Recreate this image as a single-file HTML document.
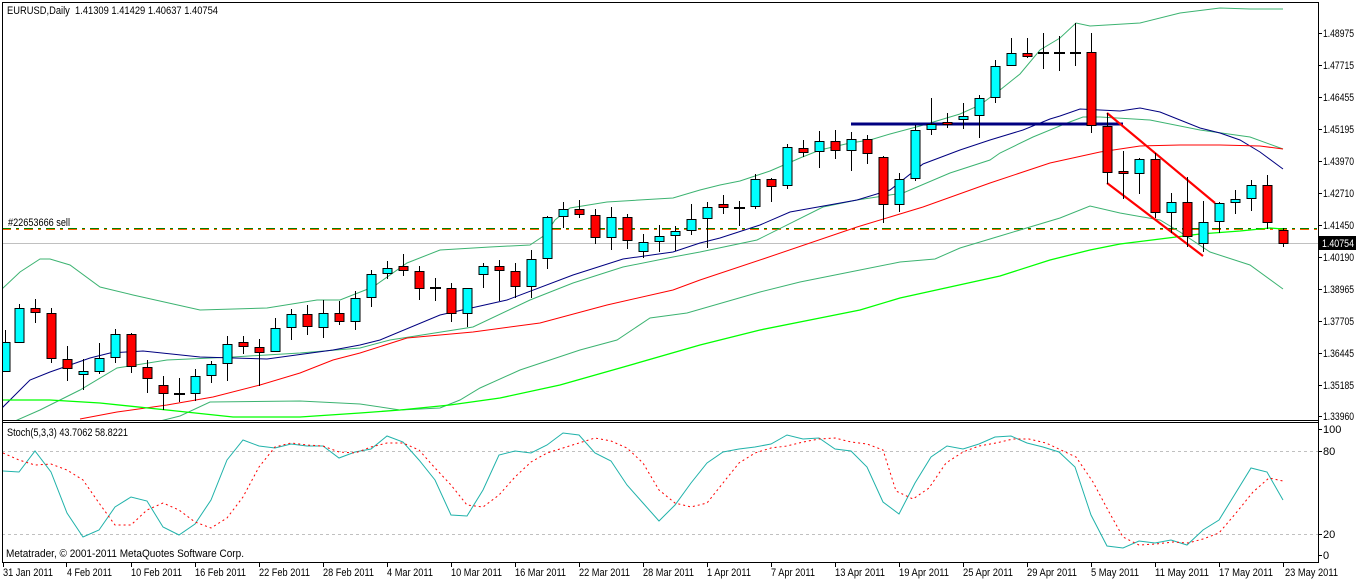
<!DOCTYPE html>
<html><head><meta charset="utf-8"><style>
html,body{margin:0;padding:0;background:#fff;}
svg{display:block;}
text{font-family:"Liberation Sans",sans-serif;font-size:11px;fill:#000;}
.p{font-size:10.5px;}
</style></head><body>
<svg width="1356" height="579" viewBox="0 0 1356 579" xmlns="http://www.w3.org/2000/svg">
<defs><clipPath id="cm"><rect x="3" y="3" width="1315" height="417"/></clipPath>
<clipPath id="cs"><rect x="3" y="424" width="1315" height="138"/></clipPath></defs>
<rect width="1356" height="579" fill="#fff"/>
<g clip-path="url(#cm)">
<line x1="2" y1="243.5" x2="1318" y2="243.5" stroke="#c0c0c0"/>
<line x1="2" y1="229.5" x2="1318" y2="229.5" stroke="#ff6000" stroke-dasharray="9,5,3,5"/>
<line x1="2" y1="228.5" x2="1318" y2="228.5" stroke="#008000" stroke-dasharray="9,5,3,5"/>
<g fill="none" stroke-width="1">
<polyline stroke="#3cb371" points="2,289 20,272 40,259 50,259 70,265 100,287 133,295 200,310 267,308 317,300 340,300 373,287 407,263 440,250 490,247 530,245 545,235 555,220 570,208 607,202 673,198 700,190 720,185 740,181 770,171 800,158 820,150 850,143 870,140 890,134 920,126 940,120 960,114 980,105 1000,90 1020,74 1040,50 1060,38 1076,23 1090,26 1140,23 1180,13 1220,8 1250,9 1283,9"/>
<polyline stroke="#3cb371" points="15,421 40,410 60,400 80,390 117,368 167,360 233,357 300,353 360,348 390,340 473,327 530,300 573,283 623,267 673,257 700,252 757,240 823,207 857,200 903,193 950,173 990,160 1000,153 1033,137 1067,123 1083,117 1100,117 1150,120 1200,130 1250,137 1283,149"/>
<polyline stroke="#3cb371" points="160,421 180,416 210,402 300,401 360,404 400,410 440,408 460,400 480,388 520,370 580,350 617,340 650,318 687,313 760,292 800,282 850,272 900,262 935,259 960,248 1000,236 1060,218 1090,206 1120,213 1160,220 1180,232 1210,252 1250,265 1283,289"/>
<polyline stroke="#000080" points="2,408 30,380 50,372 70,365 90,358 110,353 143,351 200,357 267,359 333,350 360,345 380,340 440,315 507,300 573,275 623,259 673,252 700,243 720,238 760,225 790,212 857,200 890,190 923,164 960,150 990,140 1023,130 1050,119 1060,116 1080,109 1100,110 1120,111 1140,108 1160,112 1180,120 1200,128 1220,133 1240,140 1260,152 1283,169"/>
<polyline stroke="#ff0000" points="80,419 117,412 167,405 213,397 260,385 300,373 333,360 360,353 407,338 473,332 540,323 607,305 673,290 700,280 763,259 857,227 923,207 990,183 1050,163 1100,152 1140,146 1180,145 1220,145 1260,146 1283,149"/>
<polyline stroke="#00ff00" stroke-width="1.3" points="2,400 50,400 100,403 167,410 233,417 300,417 360,413 400,410 450,405 500,398 560,385 620,368 700,345 760,330 820,318 860,310 900,298 950,287 1000,276 1050,260 1090,250 1120,244 1160,239 1200,234 1240,231 1270,228 1283,229"/>
</g>
<line x1="851" y1="124" x2="1123" y2="124" stroke="#000080" stroke-width="3"/>
<path d="M1107 113L1215 203M1107 183L1203 256" stroke="#ff0000" stroke-width="2.2" fill="none"/>
<path stroke="#000" stroke-width="1" fill="none" d="M5.5 330V372M19.5 304V343M35.5 299V323M51.5 308V363M67.5 346V381M83.5 359V390M99.5 343V374M115.5 329V363M131.5 333V373M147.5 360V393M163.5 376V410M179.5 378V402M195.5 369V401M211.5 361V383M227.5 336V381M243.5 336V354M259.5 339V386M275.5 318V352M291.5 309V340M307.5 305V335M323.5 300V338M339.5 301V325M355.5 291V330M371.5 270V307M387.5 261V279M403.5 254V276M419.5 266V300M435.5 278V301M451.5 283V322M467.5 288V327M483.5 263V288M499.5 260V301M515.5 263V298M531.5 250V298M547.5 216V269M563.5 202V228M579.5 200V218M595.5 209V244M611.5 207V250M627.5 214V249M643.5 234V258M659.5 225V252M675.5 226V251M691.5 204V235M707.5 202V248M723.5 195V214M739.5 201V226M755.5 174V209M771.5 178V202M787.5 144V189M803.5 140V157M819.5 131V168M835.5 130V159M851.5 132V171M867.5 135V164M883.5 156V223M899.5 173V212M915.5 125V181M931.5 98V135M947.5 113V128M963.5 103V129M979.5 95V138M995.5 60V103M1011.5 38V66M1027.5 38V58M1043.5 33V69M1059.5 36V71M1075.5 23V66M1091.5 33V133M1107.5 113V184M1123.5 151V199M1139.5 158V194M1155.5 153V218M1171.5 193V233M1187.5 177V247M1203.5 201V252M1219.5 202V233M1235.5 190V214M1251.5 180V211M1267.5 175V229M1283.5 228V247"/>
<path stroke="#000" stroke-width="2" d="M174 394H185M430 288H441M734 208H745M1038 53H1049M1054 53H1065M1070 53H1081"/>
<g stroke="#000" stroke-width="1">
<g fill="#00ffff">
<rect x="1" y="342.5" width="9" height="29"/><rect x="15" y="308.5" width="9" height="34"/><rect x="79" y="371.5" width="9" height="3"/><rect x="95" y="358.5" width="9" height="13"/><rect x="111" y="334.5" width="9" height="23"/><rect x="191" y="376.5" width="9" height="17"/><rect x="207" y="364.5" width="9" height="11"/><rect x="223" y="344.5" width="9" height="19"/><rect x="271" y="328.5" width="9" height="23"/><rect x="287" y="314.5" width="9" height="13"/><rect x="319" y="313.5" width="9" height="14"/><rect x="351" y="298.5" width="9" height="23"/><rect x="367" y="274.5" width="9" height="23"/><rect x="383" y="268.5" width="9" height="5"/><rect x="463" y="288.5" width="9" height="25"/><rect x="479" y="266.5" width="9" height="8"/><rect x="527" y="259.5" width="9" height="27"/><rect x="543" y="217.5" width="9" height="41"/><rect x="559" y="209.5" width="9" height="7"/><rect x="607" y="217.5" width="9" height="20"/><rect x="639" y="242.5" width="9" height="9"/><rect x="655" y="236.5" width="9" height="5"/><rect x="671" y="231.5" width="9" height="4"/><rect x="687" y="219.5" width="9" height="11"/><rect x="703" y="207.5" width="9" height="11"/><rect x="751" y="179.5" width="9" height="27"/><rect x="783" y="147.5" width="9" height="38"/><rect x="815" y="141.5" width="9" height="10"/><rect x="847" y="139.5" width="9" height="11"/><rect x="895" y="179.5" width="9" height="25"/><rect x="911" y="130.5" width="9" height="48"/><rect x="927" y="124.5" width="9" height="5"/><rect x="959" y="116.5" width="9" height="3"/><rect x="975" y="98.5" width="9" height="17"/><rect x="991" y="66.5" width="9" height="31"/><rect x="1007" y="53.5" width="9" height="12"/><rect x="1135" y="159.5" width="9" height="14"/><rect x="1167" y="202.5" width="9" height="10"/><rect x="1199" y="222.5" width="9" height="21"/><rect x="1215" y="203.5" width="9" height="18"/><rect x="1231" y="199.5" width="9" height="3"/><rect x="1247" y="185.5" width="9" height="13"/>
</g>
<g fill="#ff0000">
<rect x="31" y="308.5" width="9" height="4"/><rect x="47" y="313.5" width="9" height="45"/><rect x="63" y="359.5" width="9" height="9"/><rect x="127" y="334.5" width="9" height="32"/><rect x="143" y="367.5" width="9" height="11"/><rect x="159" y="385.5" width="9" height="8"/><rect x="239" y="342.5" width="9" height="4"/><rect x="255" y="347.5" width="9" height="5"/><rect x="303" y="314.5" width="9" height="12"/><rect x="335" y="313.5" width="9" height="8"/><rect x="399" y="266.5" width="9" height="4"/><rect x="415" y="271.5" width="9" height="17"/><rect x="447" y="288.5" width="9" height="25"/><rect x="495" y="266.5" width="9" height="4"/><rect x="511" y="271.5" width="9" height="15"/><rect x="575" y="209.5" width="9" height="5"/><rect x="591" y="215.5" width="9" height="22"/><rect x="623" y="217.5" width="9" height="23"/><rect x="719" y="204.5" width="9" height="3"/><rect x="767" y="179.5" width="9" height="7"/><rect x="799" y="148.5" width="9" height="4"/><rect x="831" y="141.5" width="9" height="9"/><rect x="863" y="139.5" width="9" height="14"/><rect x="879" y="157.5" width="9" height="47"/><rect x="943" y="122.5" width="9" height="2"/><rect x="1023" y="53.5" width="9" height="3"/><rect x="1087" y="52.5" width="9" height="73"/><rect x="1103" y="126.5" width="9" height="46"/><rect x="1119" y="171.5" width="9" height="2"/><rect x="1151" y="159.5" width="9" height="53"/><rect x="1183" y="202.5" width="9" height="34"/><rect x="1263" y="185.5" width="9" height="37"/><rect x="1279" y="230.5" width="9" height="13"/>
</g></g>
</g>
<text x="7" y="14" textLength="211" lengthAdjust="spacingAndGlyphs">EURUSD,Daily&#160;&#160;1.41309 1.41429 1.40637 1.40754</text>
<text x="8" y="226" textLength="62" lengthAdjust="spacingAndGlyphs">#22653666 sell</text>
<g clip-path="url(#cs)">
<path d="M2 451.5H1318M2 534.5H1318" stroke="#c0c0c0" stroke-dasharray="3,3"/>
<polyline fill="none" stroke="#20b2aa" points="3,471 19,472 35,451 51,472 67,513 83,537 99,530 115,507 131,497 147,501 163,527 179,535 195,524 211,500 227,460 243,440 259,446 275,448 291,444 307,446 323,446 339,458 355,452 371,449 387,436 403,442 419,460 435,480 451,515 467,516 483,490 499,455 515,451 531,453 547,445 563,433 579,435 595,453 611,461 627,485 643,503 659,521 675,505 691,483 707,463 723,452 739,449 755,447 771,444 787,435 803,439 819,438 835,449 851,451 867,467 883,502 899,514 915,483 931,457 947,446 963,449 979,444 995,437 1011,436 1027,443 1043,447 1059,452 1075,467 1091,515 1107,546 1123,548 1139,541 1155,543 1171,540 1187,545 1203,530 1219,520 1235,494 1251,468 1267,472 1283,500"/>
<polyline fill="none" stroke="#ff0000" stroke-dasharray="2,3" points="3,453 19,460 35,465 51,464 67,470 83,480 99,503 115,525 131,525 147,510 163,503 179,510 195,522 211,528 227,518 243,497 259,467 275,447 291,443 307,445 323,446 339,452 355,453 371,447 387,443 403,443 419,450 435,468 451,485 467,505 483,507 499,495 515,477 531,462 547,453 563,448 579,443 595,438 611,441 627,448 643,463 659,490 675,503 691,507 707,503 723,483 739,463 755,453 771,448 787,446 803,442 819,439 835,438 851,442 867,444 883,450 896,491 913,499 929,488 946,463 963,452 979,446 996,443 1013,439 1029,439 1046,443 1063,451 1076,457 1093,482 1109,512 1123,537 1139,545 1156,544 1173,542 1188,543 1203,539 1219,533 1236,513 1253,492 1269,478 1283,481"/>
</g>
<text x="7" y="436" textLength="121" lengthAdjust="spacingAndGlyphs">Stoch(5,3,3) 43.7062 58.8221</text>
<text x="6" y="557" textLength="238" lengthAdjust="spacingAndGlyphs">Metatrader, © 2001-2011 MetaQuotes Software Corp.</text>
<g fill="none" stroke="#000">
<path d="M2.5 2V562.5M2 2.5H1318M2 420.5H1318M2 422.5H1318M2 562.5H1318M1318.5 2V563"/>
<path d="M1318 33.5h4M1318 65.5h4M1318 97.5h4M1318 129.5h4M1318 161.5h4M1318 193.5h4M1318 225.5h4M1318 257.5h4M1318 289.5h4M1318 321.5h4M1318 353.5h4M1318 385.5h4M1318 416.5h4M1318 429.5h4M1318 451.5h4M1318 534.5h4M1318 555.5h4"/>
<path d="M3.5 562v5M66.5 562v5M131.5 562v5M195.5 562v5M259.5 562v5M323.5 562v5M387.5 562v5M451.5 562v5M515.5 562v5M579.5 562v5M643.5 562v5M707.5 562v5M771.5 562v5M835.5 562v5M899.5 562v5M963.5 562v5M1027.5 562v5M1091.5 562v5M1155.5 562v5M1219.5 562v5M1283.5 562v5"/>
</g>
<g class="p">
<text x="1323" y="37" textLength="31" lengthAdjust="spacingAndGlyphs">1.48975</text><text x="1323" y="69" textLength="31" lengthAdjust="spacingAndGlyphs">1.47715</text><text x="1323" y="101" textLength="31" lengthAdjust="spacingAndGlyphs">1.46455</text><text x="1323" y="133" textLength="31" lengthAdjust="spacingAndGlyphs">1.45195</text><text x="1323" y="165" textLength="31" lengthAdjust="spacingAndGlyphs">1.43970</text><text x="1323" y="197" textLength="31" lengthAdjust="spacingAndGlyphs">1.42710</text><text x="1323" y="229" textLength="31" lengthAdjust="spacingAndGlyphs">1.41450</text><text x="1323" y="261" textLength="31" lengthAdjust="spacingAndGlyphs">1.40190</text><text x="1323" y="293" textLength="31" lengthAdjust="spacingAndGlyphs">1.38965</text><text x="1323" y="325" textLength="31" lengthAdjust="spacingAndGlyphs">1.37705</text><text x="1323" y="357" textLength="31" lengthAdjust="spacingAndGlyphs">1.36445</text><text x="1323" y="389" textLength="31" lengthAdjust="spacingAndGlyphs">1.35185</text><text x="1323" y="420" textLength="31" lengthAdjust="spacingAndGlyphs">1.33960</text>
<rect x="1319" y="236" width="37" height="14" fill="#000"/>
<text x="1322" y="247" style="fill:#fff" textLength="32" lengthAdjust="spacingAndGlyphs">1.40754</text>
<text x="1323" y="433">100</text><text x="1323" y="455">80</text><text x="1323" y="538">20</text><text x="1323" y="559">0</text>
</g>
<g class="p">
<text x="3" y="576" textLength="50" lengthAdjust="spacingAndGlyphs">31 Jan 2011</text><text x="67" y="576" textLength="45" lengthAdjust="spacingAndGlyphs">4 Feb 2011</text><text x="131" y="576" textLength="51" lengthAdjust="spacingAndGlyphs">10 Feb 2011</text><text x="195" y="576" textLength="51" lengthAdjust="spacingAndGlyphs">16 Feb 2011</text><text x="259" y="576" textLength="51" lengthAdjust="spacingAndGlyphs">22 Feb 2011</text><text x="323" y="576" textLength="51" lengthAdjust="spacingAndGlyphs">28 Feb 2011</text><text x="387" y="576" textLength="46" lengthAdjust="spacingAndGlyphs">4 Mar 2011</text><text x="451" y="576" textLength="51" lengthAdjust="spacingAndGlyphs">10 Mar 2011</text><text x="515" y="576" textLength="51" lengthAdjust="spacingAndGlyphs">16 Mar 2011</text><text x="579" y="576" textLength="51" lengthAdjust="spacingAndGlyphs">22 Mar 2011</text><text x="643" y="576" textLength="51" lengthAdjust="spacingAndGlyphs">28 Mar 2011</text><text x="707" y="576" textLength="44" lengthAdjust="spacingAndGlyphs">1 Apr 2011</text><text x="771" y="576" textLength="44" lengthAdjust="spacingAndGlyphs">7 Apr 2011</text><text x="835" y="576" textLength="50" lengthAdjust="spacingAndGlyphs">13 Apr 2011</text><text x="899" y="576" textLength="50" lengthAdjust="spacingAndGlyphs">19 Apr 2011</text><text x="963" y="576" textLength="50" lengthAdjust="spacingAndGlyphs">25 Apr 2011</text><text x="1027" y="576" textLength="50" lengthAdjust="spacingAndGlyphs">29 Apr 2011</text><text x="1091" y="576" textLength="48" lengthAdjust="spacingAndGlyphs">5 May 2011</text><text x="1155" y="576" textLength="54" lengthAdjust="spacingAndGlyphs">11 May 2011</text><text x="1219" y="576" textLength="54" lengthAdjust="spacingAndGlyphs">17 May 2011</text><text x="1285" y="576" textLength="53" lengthAdjust="spacingAndGlyphs">23 May 2011</text>
</g>
</svg>
</body></html>
